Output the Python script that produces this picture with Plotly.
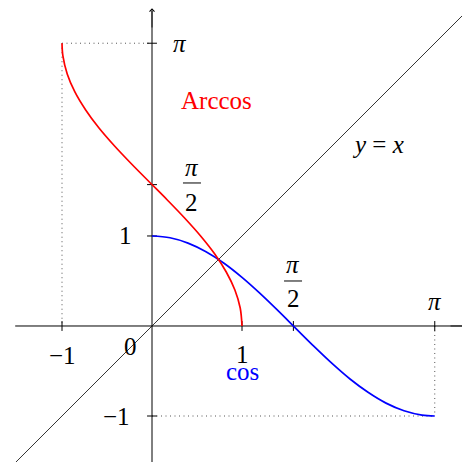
import plotly.graph_objects as go

cos_x = [0, 0.2, 0.4, 0.6, 0.8, 1.0, 1.2, 1.4, 1.6, 1.8, 2.0, 2.2, 2.4, 2.6, 2.8, 3.0, 3.1416]
cos_y = [1.0, 0.980, 0.921, 0.825, 0.697, 0.540, 0.362, 0.170, -0.029, -0.227,
         -0.416, -0.589, -0.737, -0.857, -0.942, -0.990, -1.0]

# arccos curve (reflection of cos over y = x)
acos_x = [1.0, 0.980, 0.921, 0.825, 0.697, 0.540, 0.362, 0.170, -0.029, -0.227,
          -0.416, -0.589, -0.737, -0.857, -0.942, -0.990, -1.0]
acos_y = [0, 0.2, 0.4, 0.6, 0.8, 1.0, 1.2, 1.4, 1.6, 1.8, 2.0, 2.2, 2.4, 2.6, 2.8, 3.0, 3.1416]

diag = [-1.52, 3.53]

PI = 3.14159
x_ticks = [-1, 1, PI / 2, PI]
y_ticks = [-1, 1, PI / 2, PI]

FONT = 'Liberation Serif'
TICK = 0.055
SP = '&nbsp;'

fig = go.Figure()

# dotted guide lines
fig.add_trace(go.Scatter(
    x=[-1, 0, None, -1, -1, None, PI, PI, None, 0, PI],
    y=[PI, PI, None, PI, 0, None, 0, -1, None, -1, -1],
    mode='lines', line=dict(color='#555555', width=1, dash='1px,3.5px'),
    hoverinfo='skip'))

# axes
fig.add_trace(go.Scatter(x=[-1.52, 3.50], y=[0, 0], mode='lines',
                         line=dict(color='black', width=1), hoverinfo='skip'))
fig.add_trace(go.Scatter(x=[0, 0], y=[-1.52, 3.50], mode='lines',
                         line=dict(color='black', width=1), hoverinfo='skip'))

# tick marks
tx, ty = [], []
for t in x_ticks:
    tx += [t, t, None]
    ty += [-TICK, TICK, None]
for t in y_ticks:
    tx += [-TICK, TICK, None]
    ty += [t, t, None]
fig.add_trace(go.Scatter(x=tx, y=ty, mode='lines',
                         line=dict(color='black', width=1), hoverinfo='skip'))

# y = x
fig.add_trace(go.Scatter(x=diag, y=diag, mode='lines',
                         line=dict(color='black', width=0.8), hoverinfo='skip'))

fig.add_trace(go.Scatter(x=cos_x, y=cos_y, mode='lines', line_shape='spline',
                         line=dict(color='#0000ff', width=1.7), hoverinfo='skip'))
fig.add_trace(go.Scatter(x=acos_x, y=acos_y, mode='lines', line_shape='spline',
                         line=dict(color='#ff0000', width=1.7), hoverinfo='skip'))

# axis arrow heads
for (hx, hy, tx0, ty0) in [(3.53, 0, 3.3, 0), (0, 3.53, 0, 3.3)]:
    fig.add_annotation(x=hx, y=hy, ax=tx0, ay=ty0, xref='x', yref='y',
                       axref='x', ayref='y', text='', showarrow=True,
                       arrowhead=4, arrowsize=1.2, arrowwidth=0.8, arrowcolor='black',
                       standoff=0)

labels = [
    (0.311, 3.144, '<i>π</i>', 'black'),
    (0.722, 2.50, 'Arccos', '#ff0000'),
    (2.511, 2.022, '<i>y</i>' + SP + '=' + SP + '<i>x</i>', 'black'),
    (0.444, 1.756, '<i>π</i>', 'black'),
    (0.444, 1.367, '2', 'black'),
    (-0.30, 1.0, '1', 'black'),
    (-0.40, -1.0, '−1', 'black'),
    (-1.0, -0.333, '−1', 'black'),
    (-0.244, -0.233, '0', 'black'),
    (1.0, -0.322, '1', 'black'),
    (1.0, -0.511, 'cos', '#0000ff'),
    (1.567, 0.678, '<i>π</i>', 'black'),
    (1.567, 0.30, '2', 'black'),
    (3.144, 0.267, '<i>π</i>', 'black'),
]
for (lx, ly, txt, col) in labels:
    fig.add_annotation(x=lx, y=ly, text=txt, showarrow=False,
                       font=dict(family=FONT, size=25, color=col),
                       xanchor='center', yanchor='middle')

# fraction bars
for (bx, by) in [(0.444, 1.589), (1.567, 0.50)]:
    fig.add_shape(type='line', x0=bx - 0.1, x1=bx + 0.1, y0=by, y1=by,
                  line=dict(color='black', width=1))

# ranges offset by the 8px page margin
fig.update_layout(
    width=470, height=462,
    margin=dict(l=0, r=0, t=0, b=0),
    plot_bgcolor='white', paper_bgcolor='white',
    showlegend=False,
    xaxis=dict(range=[-1.6, 3.622], visible=False),
    yaxis=dict(range=[-1.6, 3.533], visible=False),
)

fig.write_html("out.html")
